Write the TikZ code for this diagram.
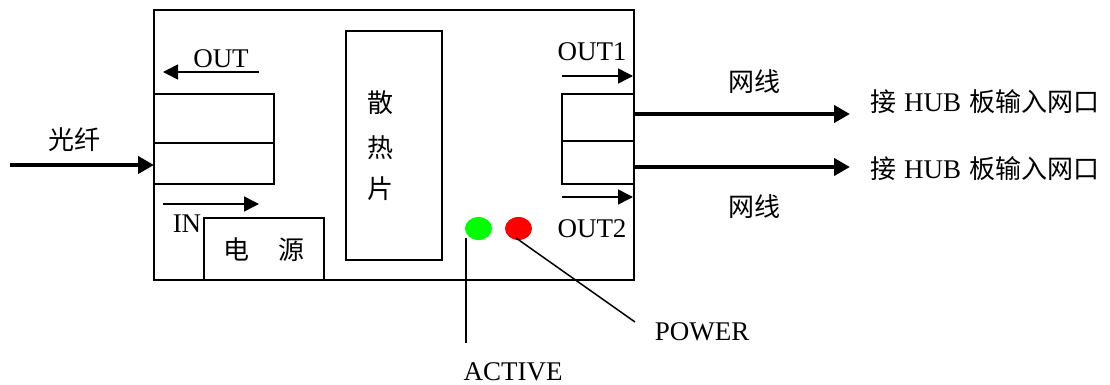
\documentclass[tikz,border=0pt]{standalone}
\usepackage{fontspec}
\setmainfont{Liberation Serif}
\newfontfamily\cjk{Noto Sans CJK SC}
\usetikzlibrary{arrows.meta,shapes.geometric}
\begin{document}
\begin{tikzpicture}[x=1pt,y=-1pt,
  thin box/.style={draw,line width=1.5pt},
  txt/.style={font=\fontsize{27}{30}\selectfont,inner sep=0pt},
  ctxt/.style={font=\cjk\fontsize{26}{30}\selectfont,inner sep=0pt},
  sarrow/.style={line width=1.5pt,-{Triangle[length=15pt,width=15pt]}},
  barrow/.style={line width=4pt,-{Triangle[length=16pt,width=17pt]}},
  lead/.style={line width=1.5pt}]
\useasboundingbox (0,0) rectangle (1110,385);
% main box
\draw[thin box] (154,10) rectangle (634,280);
% left port
\draw[thin box] (154,94) rectangle (274,184);
\draw[line width=1.5pt] (154,143) -- (274,143);
\coordinate (lin) at (154,165);
\coordinate (fstart) at (10,165);
\draw[barrow] (fstart) -- (lin);
\node[ctxt] (fiber) at (74,140) {光纤};
% OUT arrow
\coordinate (o1) at (259,72); \coordinate (o2) at (163,72);
\draw[sarrow] (o1) -- (o2);
\node[txt] (outl) at (221,59) {OUT};
% IN arrow
\coordinate (i1) at (163,204); \coordinate (i2) at (259,204);
\draw[sarrow] (i1) -- (i2);
\node[txt] (inl) at (187,224) {IN};
% power box
\draw[thin box,fill=white] (204,218) rectangle (324,280);
\node[ctxt] (pw) at (264,250) {电\hspace{30pt}源};
% heat sink
\draw[thin box] (346,31) rectangle (442,260);
\node[ctxt] (hs1) at (380,103) {散};
\node[ctxt] (hs2) at (380,148) {热};
\node[ctxt] (hs3) at (380,189) {片};
% right port
\draw[thin box] (562,94) rectangle (634,184);
\draw[line width=1.5pt] (562,141) -- (634,141);
\coordinate (r1a) at (562,76); \coordinate (r1b) at (633,76);
\draw[sarrow] (r1a) -- (r1b);
\node[txt] (out1) at (592,52) {OUT1};
\coordinate (r2a) at (562,197); \coordinate (r2b) at (633,197);
\draw[sarrow] (r2a) -- (r2b);
\node[txt] (out2) at (592,229) {OUT2};
% network arrows
\coordinate (n1a) at (634,114); \coordinate (n1b) at (850,114);
\coordinate (n2a) at (634,167); \coordinate (n2b) at (850,167);
\draw[barrow] (n1a) -- (n1b);
\draw[barrow] (n2a) -- (n2b);
\node[ctxt] (wx1) at (754,82) {网线};
\node[ctxt] (wx2) at (754,207) {网线};
\node[anchor=west,inner sep=0pt] (hub1) at (870,102) {\cjk\fontsize{26}{30}\selectfont 接\hspace{8pt}{\rmfamily\fontsize{27}{30}\selectfont HUB}\hspace{8pt}板输入网口};
\node[anchor=west,inner sep=0pt] (hub2) at (870,169) {\cjk\fontsize{26}{30}\selectfont 接\hspace{8pt}{\rmfamily\fontsize{27}{30}\selectfont HUB}\hspace{8pt}板输入网口};
% LEDs
\node[ellipse,fill=green,minimum width=27pt,minimum height=23pt,inner sep=0pt] (act) at (478.5,228.5) {};
\node[ellipse,fill=red,minimum width=27pt,minimum height=23pt,inner sep=0pt] (pwr) at (518.5,228.5) {};
\node[txt] (actl) at (513,372) {ACTIVE};
\node[txt] (pwrl) at (702,332) {POWER};
\coordinate (a1) at (466,238); \coordinate (a2) at (466,343);
\draw[lead] (a1) -- (a2);
\coordinate (p1) at (516,238); \coordinate (p2) at (635,322);
\draw[lead] (p1) -- (p2);
\end{tikzpicture}
\end{document}
